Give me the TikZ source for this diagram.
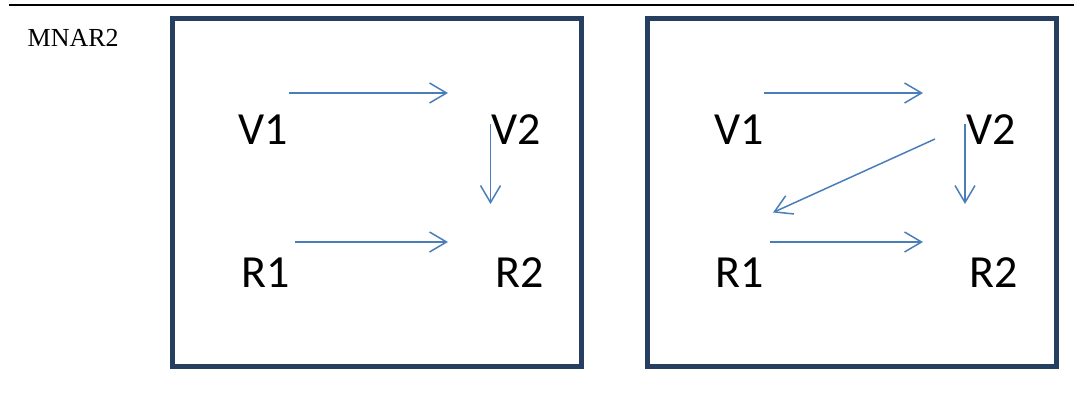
\documentclass[tikz,border=0pt]{standalone}
\usepackage{fontspec}
\setmainfont{Liberation Serif}
\newfontfamily\calib{Carlito}
\usetikzlibrary{arrows.meta}
\definecolor{boxnavy}{RGB}{38,62,96}
\definecolor{arrowblue}{RGB}{74,126,187}
\begin{document}
\begin{tikzpicture}[x=1pt,y=-1pt,
  framebox/.style={draw=boxnavy,line width=5pt,inner sep=0pt,outer sep=0pt,minimum width=409pt,minimum height=348pt,anchor=north west},
  lbl/.style={inner sep=0pt,anchor=base west,font=\calib\fontsize{46}{50}\selectfont},
  arr/.style={draw=arrowblue,line width=1.5pt,-{Straight Barb[length=17pt,width=20pt,line width=1.5pt]}}]
\useasboundingbox (0,0) rectangle (1074,392);
\coordinate (ruleL) at (9,5);
\coordinate (ruleR) at (1074,5);
\draw[line width=2pt] (ruleL) -- (ruleR);
\node[inner sep=0pt,anchor=base west,font=\fontsize{26}{30}\selectfont] (title) at (27.5,46) {MNAR2};
% left panel
\node[framebox] (boxA) at (172.5,18.3) {};
\node[lbl] (aV1) at (238,144) {V1};
\node[lbl] (aV2) at (491,144) {V2};
\node[lbl] (aR1) at (241,287) {R1};
\node[lbl] (aR2) at (495,287) {R2};
\coordinate (aV1s) at (289,93);
\coordinate (aV1e) at (448,93);
\coordinate (aR1s) at (295,242);
\coordinate (aR1e) at (448,242);
\coordinate (aV2s) at (490.5,124);
\coordinate (aV2e) at (490.5,204);
\draw[arr] (aV1s) -- (aV1e);
\draw[arr] (aR1s) -- (aR1e);
\draw[arr] (aV2s) -- (aV2e);
% right panel
\node[framebox] (boxB) at (647.5,18.3) {};
\node[lbl] (bV1) at (714,144) {V1};
\node[lbl] (bV2) at (966,144) {V2};
\node[lbl] (bR1) at (715,287) {R1};
\node[lbl] (bR2) at (969,287) {R2};
\coordinate (bV1s) at (764,93);
\coordinate (bV1e) at (923,93);
\coordinate (bR1s) at (770,242);
\coordinate (bR1e) at (923,242);
\coordinate (bV2s) at (965,124);
\coordinate (bV2e) at (965,204);
\coordinate (bDs) at (935,139);
\coordinate (bDe) at (773,212.5);
\draw[arr] (bV1s) -- (bV1e);
\draw[arr] (bR1s) -- (bR1e);
\draw[arr] (bV2s) -- (bV2e);
\draw[arr] (bDs) -- (bDe);
\end{tikzpicture}
\end{document}
